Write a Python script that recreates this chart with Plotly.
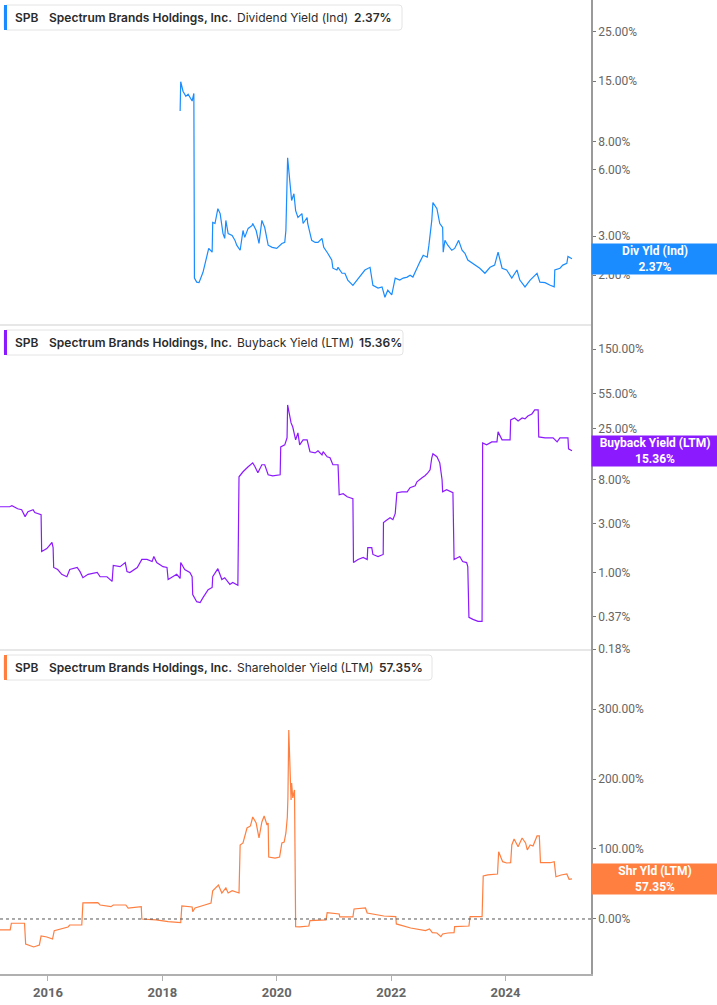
import plotly.graph_objects as go
from plotly.subplots import make_subplots
from datetime import datetime, timedelta
import math

# ---------------- data (decimal year, percent) ----------------
div_t = [2018.31, 2018.32, 2018.36, 2018.41, 2018.45, 2018.52, 2018.55, 2018.56, 2018.60, 2018.64,
         2018.71, 2018.78, 2018.81, 2018.87, 2018.88, 2018.92, 2018.97, 2019.01, 2019.06, 2019.09,
         2019.11, 2019.15, 2019.22, 2019.27, 2019.30, 2019.36, 2019.41, 2019.44, 2019.50, 2019.57,
         2019.58, 2019.64, 2019.69, 2019.74, 2019.79, 2019.85, 2019.92, 2020.00, 2020.09, 2020.14,
         2020.16, 2020.19, 2020.23, 2020.26, 2020.30, 2020.33, 2020.37, 2020.44, 2020.46, 2020.53,
         2020.54, 2020.61, 2020.67, 2020.72, 2020.79, 2020.82, 2020.89, 2020.96, 2020.98, 2021.05,
         2021.07, 2021.14, 2021.19, 2021.24, 2021.33, 2021.40, 2021.49, 2021.54, 2021.63, 2021.68,
         2021.77, 2021.84, 2021.89, 2021.94, 2022.01, 2022.07, 2022.15, 2022.21, 2022.28, 2022.33,
         2022.38, 2022.45, 2022.50, 2022.56, 2022.63, 2022.66, 2022.71, 2022.73, 2022.80, 2022.85,
         2022.90, 2022.91, 2022.94, 2022.99, 2023.06, 2023.11, 2023.18, 2023.24, 2023.29, 2023.34,
         2023.43, 2023.55, 2023.64, 2023.73, 2023.81, 2023.87, 2023.94, 2024.02, 2024.11, 2024.20,
         2024.25, 2024.34, 2024.43, 2024.55, 2024.60, 2024.69, 2024.78, 2024.85, 2024.86, 2024.95,
         2025.00, 2025.07, 2025.09, 2025.16]
div_v = [11.0, 14.9, 13.5, 12.8, 13.1, 12.2, 13.2, 1.94, 1.86, 1.85,
         2.06, 2.41, 2.64, 2.54, 3.46, 3.42, 3.99, 3.79, 3.08, 2.93,
         3.53, 3.08, 3.02, 2.87, 2.73, 2.59, 3.18, 2.96, 3.25, 3.35,
         3.42, 3.18, 2.78, 3.53, 3.28, 2.73, 2.67, 2.64, 2.78, 2.81,
         3.18, 6.76, 4.97, 4.34, 4.66, 3.91, 3.64, 3.79, 3.42, 3.64,
         3.42, 2.87, 2.81, 2.81, 2.93, 2.67, 2.51, 2.34, 2.15, 2.11,
         2.17, 2.04, 2.04, 1.90, 1.80, 1.90, 2.04, 2.11, 2.17, 1.80,
         1.75, 1.77, 1.59, 1.71, 1.63, 1.94, 1.90, 1.94, 1.96, 2.00,
         1.96, 2.17, 2.29, 2.46, 2.41, 2.73, 3.53, 4.25, 3.99, 3.42,
         3.28, 2.54, 2.87, 2.73, 2.59, 2.64, 2.87, 2.59, 2.51, 2.34,
         2.26, 2.15, 2.04, 2.17, 2.22, 2.54, 2.15, 2.11, 1.94, 2.11,
         1.90, 1.77, 1.90, 2.04, 1.86, 1.85, 1.80, 1.77, 2.11, 2.15,
         2.22, 2.26, 2.43, 2.37]

bb_t = [2015.16, 2015.33, 2015.37, 2015.47, 2015.54, 2015.60, 2015.65, 2015.74, 2015.77, 2015.88,
        2015.89, 2015.98, 2016.07, 2016.09, 2016.10, 2016.17, 2016.24, 2016.33, 2016.38, 2016.51,
        2016.56, 2016.61, 2016.70, 2016.86, 2016.91, 2017.03, 2017.12, 2017.14, 2017.26, 2017.35,
        2017.38, 2017.43, 2017.56, 2017.64, 2017.73, 2017.82, 2017.85, 2017.90, 2018.01, 2018.08,
        2018.10, 2018.17, 2018.25, 2018.31, 2018.32, 2018.39, 2018.48, 2018.52, 2018.53, 2018.60,
        2018.66, 2018.71, 2018.80, 2018.87, 2018.88, 2018.97, 2019.04, 2019.09, 2019.18, 2019.23,
        2019.32, 2019.34, 2019.41, 2019.50, 2019.58, 2019.62, 2019.67, 2019.74, 2019.79, 2019.85,
        2019.93, 2020.06, 2020.07, 2020.14, 2020.18, 2020.19, 2020.25, 2020.28, 2020.33, 2020.37,
        2020.40, 2020.46, 2020.53, 2020.58, 2020.67, 2020.72, 2020.79, 2020.81, 2020.88, 2020.93,
        2020.98, 2021.07, 2021.09, 2021.16, 2021.23, 2021.28, 2021.33, 2021.34, 2021.42, 2021.51,
        2021.58, 2021.59, 2021.66, 2021.68, 2021.77, 2021.86, 2021.865, 2021.93, 2021.98, 2022.03,
        2022.07, 2022.10, 2022.19, 2022.28, 2022.33, 2022.42, 2022.45, 2022.54, 2022.59, 2022.64,
        2022.68, 2022.71, 2022.73, 2022.80, 2022.85, 2022.89, 2022.90, 2022.97, 2023.03, 2023.08,
        2023.10, 2023.17, 2023.20, 2023.25, 2023.32, 2023.34, 2023.36, 2023.43, 2023.52, 2023.59,
        2023.60, 2023.67, 2023.76, 2023.85, 2023.87, 2023.94, 2024.08, 2024.09, 2024.16, 2024.22,
        2024.29, 2024.34, 2024.39, 2024.46, 2024.51, 2024.57, 2024.58, 2024.69, 2024.78, 2024.83,
        2024.90, 2024.95, 2025.09, 2025.10, 2025.16]
bb_v = [4.37, 4.37, 4.47, 4.18, 4.09, 3.50, 3.91, 4.09, 3.83, 3.66,
        1.60, 1.71, 1.96, 1.75, 1.12, 1.07, 0.96, 0.91, 1.07, 1.12,
        1.02, 0.89, 0.96, 1.00, 0.91, 0.91, 0.82, 1.17, 1.14, 1.25,
        1.02, 1.00, 1.12, 1.34, 1.34, 1.28, 1.43, 1.25, 1.14, 1.12,
        0.855, 0.91, 0.96, 0.875, 1.25, 1.07, 1.00, 0.91, 0.61, 0.52,
        0.51, 0.57, 0.68, 0.715, 0.91, 1.09, 0.855, 0.89, 0.765, 0.80,
        0.75, 8.55, 9.57, 10.7, 11.7, 10.7, 9.35, 11.2, 11.2, 8.94,
        8.75, 8.94, 16.7, 17.5, 20.5, 42.8, 28.6, 26.1, 19.6, 22.9,
        17.5, 19.6, 19.6, 15.0, 14.6, 15.3, 14.0, 15.0, 13.4, 13.1,
        11.2, 11.2, 5.72, 5.85, 5.47, 5.35, 5.23, 1.25, 1.34, 1.40,
        1.34, 1.75, 1.75, 1.50, 1.43, 1.50, 3.06, 3.27, 3.42, 3.27,
        3.74, 5.98, 6.11, 6.11, 6.69, 7.00, 7.64, 8.36, 8.75, 9.35,
        10.0, 13.1, 14.3, 13.4, 11.7, 8.00, 6.11, 6.40, 6.11, 5.98,
        1.34, 1.40, 1.43, 1.28, 1.25, 1.14, 0.366, 0.35, 0.334, 0.334,
        18.3, 17.5, 18.7, 18.7, 23.4, 19.6, 19.6, 30.6, 32.0, 29.9,
        32.0, 31.3, 33.4, 35.0, 38.3, 38.3, 20.9, 20.5, 20.5, 20.5,
        18.7, 20.5, 20.5, 16.0, 15.36]

shr_t = [2015.16, 2015.34, 2015.36, 2015.59, 2015.61, 2015.72, 2015.75, 2015.85, 2015.88, 2015.98,
         2016.05, 2016.08, 2016.11, 2016.24, 2016.35, 2016.38, 2016.59, 2016.61, 2016.73, 2016.87,
         2016.91, 2017.10, 2017.14, 2017.36, 2017.40, 2017.63, 2017.64, 2017.89, 2018.10, 2018.32,
         2018.34, 2018.52, 2018.53, 2018.57, 2018.74, 2018.85, 2018.88, 2018.98, 2019.04, 2019.11,
         2019.15, 2019.22, 2019.34, 2019.36, 2019.41, 2019.44, 2019.48, 2019.54, 2019.58, 2019.64,
         2019.69, 2019.74, 2019.78, 2019.83, 2019.85, 2019.86, 2019.97, 2020.05, 2020.09, 2020.13,
         2020.16, 2020.185, 2020.195, 2020.21, 2020.23, 2020.25, 2020.26, 2020.28, 2020.31, 2020.33,
         2020.40, 2020.56, 2020.58, 2020.86, 2020.88, 2021.09, 2021.10, 2021.33, 2021.35, 2021.55,
         2021.58, 2021.87, 2022.08, 2022.09, 2022.34, 2022.50, 2022.60, 2022.67, 2022.72, 2022.80,
         2022.87, 2022.90, 2022.99, 2023.10, 2023.11, 2023.36, 2023.38, 2023.59, 2023.61, 2023.69,
         2023.86, 2023.88, 2023.95, 2024.02, 2024.09, 2024.11, 2024.15, 2024.22, 2024.29, 2024.35,
         2024.38, 2024.43, 2024.48, 2024.55, 2024.59, 2024.61, 2024.78, 2024.85, 2024.88, 2024.97,
         2025.07, 2025.11, 2025.16]
shr_v = [-15.7, -15.7, -6.1, -6.1, -35.7, -38.6, -40.0, -37.1, -24.3, -25.7,
         -27.1, -28.6, -16.7, -14.3, -11.4, -8.6, -8.6, 22.9, 23.3, 23.3,
         20.0, 17.6, 20.0, 20.0, 15.7, 17.6, 0.0, -1.4, -3.9, -5.3,
         18.6, 17.1, 10.4, 15.7, 20.0, 22.9, 40.4, 48.6, 37.1, 44.3,
         37.1, 40.4, 37.1, 105.7, 108.6, 117.6, 130.0, 132.9, 145.7, 137.1,
         115.7, 138.6, 147.1, 134.3, 137.1, 88.6, 87.1, 88.6, 108.6, 110.0,
         122.9, 145.7, 172.9, 270.0, 198.6, 170.0, 194.3, 172.9, 184.3, -11.0,
         -11.4, -10.0, -2.4, -1.4, 9.0, 7.1, 2.9, 2.9, 14.3, 15.7,
         8.6, 4.3, 3.3, -7.1, -12.9, -15.7, -16.7, -14.3, -19.6, -20.0,
         -25.3, -21.4, -20.0, -19.6, -11.0, -10.0, 3.3, 3.3, 61.4, 62.9,
         64.3, 96.1, 81.9, 80.0, 80.4, 105.7, 114.3, 103.3, 115.7, 108.6,
         98.6, 105.7, 104.3, 118.6, 118.6, 80.4, 80.4, 81.9, 60.4, 62.9,
         64.3, 56.7, 57.35]

div_ticks = [2, 3, 6, 8, 15, 25]
bb_ticks = [0.18, 0.37, 1, 3, 8, 25, 55, 150]
shr_ticks = [0, 100, 200, 300]

ticker = "SPB"
company = "Spectrum Brands Holdings, Inc."
metric_names = ["Dividend Yield (Ind)", "Buyback Yield (LTM)", "Shareholder Yield (LTM)"]
metric_last = ["2.37%", "15.36%", "57.35%"]
badge_names = ["Div Yld (Ind)", "Buyback Yield (LTM)", "Shr Yld (LTM)"]
badge_vals = [2.37, 15.36, 57.35]

colors = ["#1a8cff", "#8c1aff", "#ff7f40"]


def dec_to_date(y):
    yr = int(y)
    start = datetime(yr, 1, 1)
    days = (datetime(yr + 1, 1, 1) - start).days
    return start + timedelta(days=(y - yr) * days)


# ---------------- layout geometry ----------------
W, H = 717, 1005
PW, PH = 591, 974  # plot area in px


def px(x):
    return x / PW


def py(y):
    return (PH - y) / PH


fig = make_subplots(rows=3, cols=1, shared_xaxes=True, vertical_spacing=0)

series = [(div_t, div_v), (bb_t, bb_v), (shr_t, shr_v)]
for i, (t, v) in enumerate(series):
    fig.add_trace(go.Scatter(x=[dec_to_date(a) for a in t], y=v, mode="lines",
                             line=dict(color=colors[i], width=1.2), hoverinfo="skip",
                             showlegend=False), row=i + 1, col=1)

tickfont = dict(family="Roboto", size=12, color="#666666")
common_y = dict(side="right", showgrid=False, zeroline=False, showline=True,
                linecolor="#9a9a9a", linewidth=1.5, ticks="outside", ticklen=3,
                tickcolor="#777777", tickfont=tickfont)

fig.update_layout(
    width=W, height=H,
    margin=dict(l=0, r=W - PW, t=0, b=H - PH, autoexpand=False),
    paper_bgcolor="white", plot_bgcolor="white",
    font=dict(family="Inter", color="#333333"),
    yaxis=dict(type="log", range=[0.0763, 1.5418], domain=[py(325), 1.0],
               tickvals=div_ticks, ticktext=[f"{v:.2f}%" for v in div_ticks], **common_y),
    yaxis2=dict(type="log", range=[-0.7544, 2.41], domain=[py(650), py(325)],
                tickvals=bb_ticks, ticktext=[f"{v:.2f}%" for v in bb_ticks], **common_y),
    yaxis3=dict(type="linear", range=[-78.6, 384.3], domain=[0.0, py(650)],
                tickvals=shr_ticks, ticktext=[f"{v:.2f}%" for v in shr_ticks], **common_y),
)

xr = [dec_to_date(2015.161), dec_to_date(2025.493)]
for k in (1, 2):
    fig.update_xaxes(range=xr, showgrid=False, zeroline=False, showline=False,
                     showticklabels=False, ticks="", row=k, col=1)
fig.update_xaxes(range=xr, showgrid=False, zeroline=False, showline=True,
                 linecolor="#b0b0b0", linewidth=2, ticks="outside", ticklen=5,
                 tickcolor="#b0b0b0", tick0="2016-01-01", dtick="M24", tickformat="%Y",
                 tickfont=dict(family="Roboto", size=13, color="#666666", weight="bold"),
                 row=3, col=1)

shapes = []
annotations = []

# panel separators
for yy in (325, 650):
    shapes.append(dict(type="line", xref="paper", yref="paper", x0=0, x1=1,
                       y0=py(yy), y1=py(yy), line=dict(color="#cfcfcf", width=1)))

# zero dotted line in the bottom panel
shapes.append(dict(type="line", xref="paper", yref="y3", x0=0, x1=1, y0=0, y1=0,
                   line=dict(color="#555555", width=1, dash="dot")))

# legend boxes
box_right = [402, 403, 432]
value_x = [352, 357, 377]
for i, off in enumerate((0, 325, 650)):
    x0, x1 = 4, box_right[i]
    y0, y1 = off + 5, off + 30
    r = 3
    path = (f"M {px(x0 + r)},{py(y0)} L {px(x1 - r)},{py(y0)} "
            f"Q {px(x1)},{py(y0)} {px(x1)},{py(y0 + r)} L {px(x1)},{py(y1 - r)} "
            f"Q {px(x1)},{py(y1)} {px(x1 - r)},{py(y1)} L {px(x0 + r)},{py(y1)} "
            f"Q {px(x0)},{py(y1)} {px(x0)},{py(y1 - r)} L {px(x0)},{py(y0 + r)} "
            f"Q {px(x0)},{py(y0)} {px(x0 + r)},{py(y0)} Z")
    shapes.append(dict(type="path", xref="paper", yref="paper", path=path,
                       fillcolor="white", line=dict(color="#e4e4e4", width=1), layer="above"))
    shapes.append(dict(type="rect", xref="paper", yref="paper", x0=px(4), x1=px(7),
                       y0=py(y1), y1=py(y0), fillcolor=colors[i], line=dict(width=0),
                       layer="above"))
    yc = py(off + 17.5)
    parts = [(13, ticker, 600), (47, company, 600),
             (235, metric_names[i], 400), (value_x[i], metric_last[i], 600)]
    for xx, txt, wt in parts:
        annotations.append(dict(xref="paper", yref="paper", x=px(xx), y=yc, text=txt,
                                showarrow=False, xanchor="left", yanchor="middle",
                                font=dict(family="Inter", size=12, color="#2b2b2b",
                                          weight=wt)))

# right-side value badges
yrefs = ["y", "y2", "y3"]
for i in range(3):
    yv = math.log10(badge_vals[i]) if i < 2 else badge_vals[i]
    annotations.append(dict(xref="paper", yref=yrefs[i], x=1.0, y=yv,
                            text=f"<b>{badge_names[i]}<br>{badge_vals[i]:.2f}%</b>",
                            showarrow=False, xanchor="left", yanchor="middle",
                            width=W - PW - 2, height=28, bgcolor=colors[i], borderpad=1,
                            align="center",
                            font=dict(family="Roboto", size=12, color="white")))

fig.update_layout(shapes=shapes, annotations=annotations)

fig.write_html("out.html", config={"displayModeBar": False},
               post_script="document.body.style.margin='0';document.body.style.padding='0';")
